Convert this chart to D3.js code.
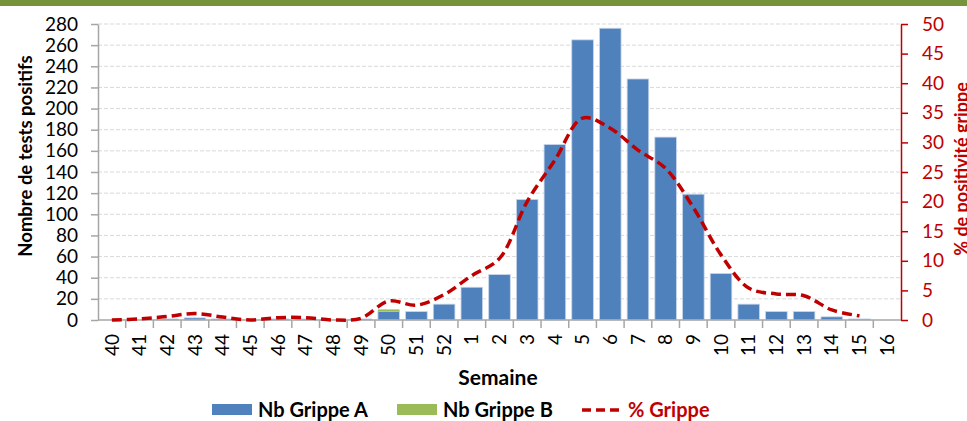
<!DOCTYPE html>
<html>
<head>
<meta charset="utf-8">
<script src="https://cdn.jsdelivr.net/npm/d3@7"></script>
<style>
  body { margin: 0; background: #fff; }
  svg { display: block; font-family: Lato, "Open Sans", sans-serif; }
</style>
</head>
<body>
<div id="chart"></div>
<script>
// Weekly flu data
const weeks = ['40','41','42','43','44','45','46','47','48','49','50','51','52',
  '1','2','3','4','5','6','7','8','9','10','11','12','13','14','15','16'];
const grippeA = [0,0,1,2,1,0,1,1,0,1,8,8,15,31,43,114,166,265,276,228,173,119,44,15,8,8,3,1,0];
const grippeB = [0,0,0,0,0,0,0,0,0,0,2,0,0,0,0,0,0,0,0,0,0,0,0,0,0,0,0,0,0];
const pctGrippe = [0,0.2,0.6,1.1,0.5,0,0.4,0.4,0,0.3,3.2,2.5,4.3,7.5,10.4,20,27,34.1,32.4,28.7,25.6,19,11,5.4,4.4,4.1,1.7,0.7,null];
const leftTicks = d3.range(0, 281, 20);
const rightTicks = d3.range(0, 51, 5);

const W = 967, H = 421;
const m = { left: 98, right: 901, top: 24, bottom: 320 };
const blue = '#4F81BD', green = '#9BBB59', red = '#C00000';

const svg = d3.select('#chart').append('svg')
  .attr('width', W).attr('height', H);

// top banner
svg.append('rect').attr('x', 0).attr('y', 0).attr('width', W).attr('height', 6)
  .attr('fill', '#77933C');

const x = d3.scaleBand().domain(weeks).range([m.left, m.right])
  .paddingInner(0.22).paddingOuter(0.11);
const yL = d3.scaleLinear().domain([0, 280]).range([m.bottom, m.top]);
const yR = d3.scaleLinear().domain([0, 50]).range([m.bottom, m.top]);

// gridlines
svg.append('g').selectAll('line')
  .data(leftTicks.slice(1))
  .enter().append('line')
  .attr('x1', m.left).attr('x2', m.right)
  .attr('y1', d => yL(d)).attr('y2', d => yL(d))
  .attr('stroke', '#d9d9d9').attr('stroke-dasharray', '4,2');

// stacked bars
const rows = weeks.map((w, i) => ({ w, a: grippeA[i], b: grippeB[i] }));
const bars = svg.append('g');
bars.selectAll('rect.a').data(rows).enter().append('rect')
  .attr('class', 'a')
  .attr('x', d => x(d.w)).attr('width', x.bandwidth())
  .attr('y', d => yL(d.a)).attr('height', d => yL(0) - yL(d.a))
  .attr('fill', blue).attr('stroke', '#c9d6ea').attr('stroke-width', 0.8);
bars.selectAll('rect.b').data(rows.filter(d => d.b > 0)).enter().append('rect')
  .attr('class', 'b')
  .attr('x', d => x(d.w)).attr('width', x.bandwidth())
  .attr('y', d => yL(d.a + d.b)).attr('height', d => yL(d.a) - yL(d.a + d.b))
  .attr('fill', green);

// left axis
const gL = svg.append('g').attr('transform', `translate(${m.left},0)`)
  .call(d3.axisLeft(yL).tickValues(leftTicks).tickSize(7).tickPadding(13).tickSizeOuter(0));
gL.select('.domain').attr('stroke', '#a6a6a6').attr('stroke-width', 1.5);
gL.selectAll('.tick line').attr('stroke', '#a6a6a6').attr('stroke-width', 1.5);
gL.selectAll('text').attr('font-size', 19).attr('fill', '#000').attr('font-family', 'Lato');

// right axis
const gR = svg.append('g').attr('transform', `translate(${m.right},0)`)
  .call(d3.axisRight(yR).tickValues(rightTicks).tickSize(7).tickPadding(14).tickSizeOuter(0));
gR.select('.domain').attr('stroke', red).attr('stroke-width', 1.5);
gR.selectAll('.tick line').attr('stroke', red).attr('stroke-width', 1.5);
gR.selectAll('text').attr('font-size', 19).attr('fill', red).attr('font-family', 'Lato');

// bottom axis
const gB = svg.append('g').attr('transform', `translate(0,${m.bottom})`)
  .call(d3.axisBottom(x).tickSize(0).tickPadding(0));
gB.select('.domain').remove();
gB.selectAll('text')
  .attr('font-size', 19).attr('fill', '#000').attr('font-family', 'Lato')
  .attr('transform', 'rotate(-90)')
  .attr('text-anchor', 'end')
  .attr('x', -14).attr('y', 0).attr('dy', '0.35em');
svg.append('line')
  .attr('x1', m.left).attr('x2', m.right).attr('y1', m.bottom).attr('y2', m.bottom)
  .attr('stroke', '#a6a6a6').attr('stroke-width', 1.5);
const off = (x.step() - x.bandwidth()) / 2;
svg.append('g').selectAll('line')
  .data(weeks.slice(1))
  .enter().append('line')
  .attr('x1', d => x(d) - off).attr('x2', d => x(d) - off)
  .attr('y1', m.bottom).attr('y2', m.bottom + 8)
  .attr('stroke', '#a6a6a6').attr('stroke-width', 1.5);

// % line
const line = d3.line()
  .defined(d => d.p != null)
  .x(d => x(d.w) + x.bandwidth() / 2)
  .y(d => yR(d.p))
  .curve(d3.curveCatmullRom.alpha(0.5));
svg.append('path')
  .datum(weeks.map((w, i) => ({ w, p: pctGrippe[i] })))
  .attr('fill', 'none').attr('stroke', red)
  .attr('stroke-width', 3.5).attr('stroke-dasharray', '10,5')
  .attr('d', line);

// axis titles
svg.append('text')
  .attr('transform', 'translate(32,156) rotate(-90)')
  .attr('text-anchor', 'middle').attr('font-weight', 'bold').attr('font-size', 18.5)
  .text('Nombre de tests positifs');
svg.append('text')
  .attr('transform', 'translate(968,169) rotate(-90)')
  .attr('text-anchor', 'middle').attr('font-weight', 'bold').attr('font-size', 18)
  .attr('fill', red)
  .text('% de positivité grippe');
svg.append('text')
  .attr('x', 498).attr('y', 385)
  .attr('text-anchor', 'middle').attr('font-weight', 'bold').attr('font-size', 21)
  .text('Semaine');

// legend
const leg = svg.append('g').attr('font-weight', 'bold').attr('font-size', 20);
leg.append('rect').attr('x', 212).attr('y', 404).attr('width', 40).attr('height', 11).attr('fill', blue);
leg.append('text').attr('x', 258).attr('y', 417).text('Nb Grippe A');
leg.append('rect').attr('x', 397).attr('y', 404).attr('width', 40).attr('height', 11).attr('fill', green);
leg.append('text').attr('x', 443).attr('y', 417).text('Nb Grippe B');
leg.append('line').attr('x1', 582).attr('x2', 620).attr('y1', 410).attr('y2', 410)
  .attr('stroke', red).attr('stroke-width', 3.5).attr('stroke-dasharray', '9,5');
leg.append('text').attr('x', 628).attr('y', 417).attr('fill', red).text('% Grippe');
</script>
</body>
</html>
